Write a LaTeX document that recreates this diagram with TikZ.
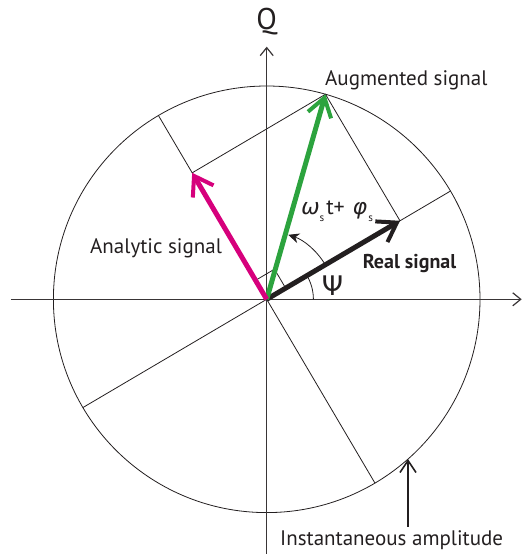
\documentclass[tikz,border=0pt]{standalone}
\usepackage{fontspec}
\setmainfont{PT Sans}
\newfontfamily\grk{DejaVu Sans}
\newfontfamily\grkit[FakeSlant=0.2]{DejaVu Sans}
\usetikzlibrary{arrows.meta,calc}
\definecolor{amag}{RGB}{214,0,124}
\definecolor{agreen}{RGB}{44,163,62}
\definecolor{ink}{RGB}{35,31,32}
\newcommand{\subS}{\raisebox{-7pt}{\fontsize{11}{11}\selectfont s}}
\begin{document}
\begin{tikzpicture}[x=1pt,y=1pt,
  thinline/.style={ink, line width=0.8pt},
  axisline/.style={ink!90, line width=1.4pt, -{Straight Barb[length=8pt,width=13pt,line width=1.2pt]}},
  vec/.style={line width=5pt, -{Straight Barb[length=18pt,width=24pt,line width=4pt]}},
  lab/.style={inner sep=0pt, anchor=base west, font=\fontsize{21}{25}\selectfont, text=ink}]
\useasboundingbox (-266.7,-254.7) rectangle (263.3,299.3);
\coordinate (O) at (0,0);
\coordinate (Re) at (30.5:154.7);
\coordinate (An) at (120.5:146.8);
\coordinate (Ag) at (74:213.3);
% circle and construction lines
\draw[thinline] (O) circle (213.3);
\coordinate (d1a) at (210.5:213.3);
\coordinate (d1b) at (30.5:213.3);
\coordinate (d2a) at (120.5:213.3);
\coordinate (d2b) at (-59.5:213.3);
\draw[thinline] (d1a) -- (d1b);
\draw[thinline] (d2a) -- (d2b);
\draw[thinline] (Re) -- (Ag) -- (An);
% axes
\coordinate (xl) at (-255.7,0);
\coordinate (xr) at (255,0);
\coordinate (yb) at (0,-254.7);
\coordinate (yt) at (0,252.6);
\draw[axisline] (xl) -- (xr);
\draw[axisline] (yb) -- (yt);
\node[inner sep=0pt, anchor=base, font=\fontsize{30}{32}\selectfont, text=ink] (q) at (0,270) {Q};
% right angle mark
\draw[thinline] ($(O)+(30.5:22)$) -- ($(O)+(30.5:22)+(120.5:22)$) -- ($(O)+(120.5:22)$);
% vectors
\draw[vec, ink] (O) -- (Re);
\draw[vec, agreen] (O) -- (Ag);
\draw[vec, amag] (O) -- (An);
% angle arcs
\draw[thinline] (46.7,0) arc[start angle=0,end angle=30.5,radius=46.7];
\draw[thinline, -{Stealth[length=11pt,width=10pt]}] (30.5:68) arc[start angle=30.5,end angle=71.5,radius=68];
% labels
\node[lab, font=\grk\fontsize{27}{29}\selectfont] (psi) at (55,4) {Ψ};
\node[lab, font=\fontsize{22}{26}\selectfont] (om) at (33.3,84.3) {{\grkit ω}\hspace{1pt}\subS\hspace{2pt}t+\hspace{7pt}{\grkit φ}\hspace{2pt}\subS};
\node[lab] (aug) at (58.3,213.3) {Augmented signal};
\node[lab] (ana) at (-176.7,46) {Analytic signal};
\node[lab, font=\bfseries\fontsize{20}{24}\selectfont] (real) at (96,31) {Real signal};
\node[lab] (inst) at (13.3,-245.7) {Instantaneous amplitude};
% amplitude arrow
\coordinate (ib) at (141.3,-227.4);
\coordinate (ia) at (141.3,-159.8);
\draw[line width=2pt, ink, -{Straight Barb[length=12pt,width=16pt,line width=1.6pt]}] (ib) -- (ia);
\end{tikzpicture}
\end{document}
